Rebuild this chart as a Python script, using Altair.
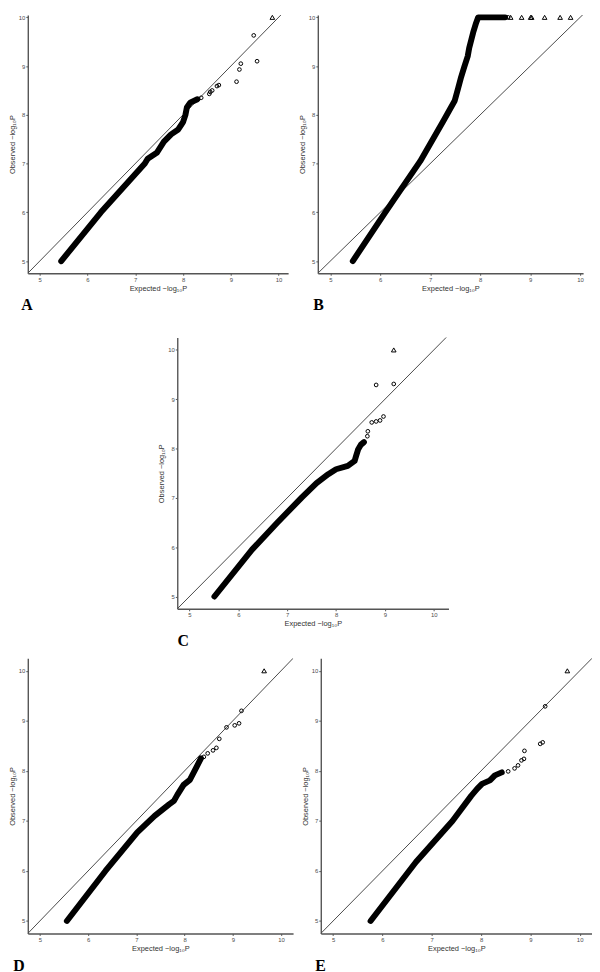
import altair as alt
import pandas as pd

# ---------------- data ----------------
# Panel A
A_band_x = [5.45, 6.28, 7.2, 7.26, 7.45, 7.6, 7.75, 7.9, 8.0, 8.05, 8.08, 8.15, 8.3]
A_band_y = [5.0, 6.0, 7.0, 7.1, 7.22, 7.45, 7.6, 7.7, 7.85, 8.0, 8.15, 8.25, 8.32]
A_pts_x = [8.38, 8.55, 8.57, 8.61, 8.71, 8.75, 9.12, 9.18, 9.21, 9.55, 9.48]
A_pts_y = [8.35, 8.43, 8.47, 8.5, 8.59, 8.61, 8.68, 8.93, 9.05, 9.1, 9.63]
A_tri_x = [9.87]
A_tri_y = [10.0]

# Panel B
B_band_x = [5.45, 6.1, 6.8, 7.26, 7.49, 7.56, 7.62, 7.68, 7.75, 7.78, 7.82, 7.86, 7.92, 7.96, 8.5]
B_band_y = [5.0, 6.0, 7.05, 7.87, 8.29, 8.55, 8.78, 8.98, 9.2, 9.37, 9.53, 9.69, 9.89, 10.0, 10.0]
B_pts_x = [8.56]
B_pts_y = [10.0]
B_tri_x = [8.61, 8.83, 9.01, 9.03, 9.29, 9.6, 9.81]
B_tri_y = [10.0, 10.0, 10.0, 10.0, 10.0, 10.0, 10.0]

# Panel C
C_band_x = [5.51, 6.28, 6.8, 7.3, 7.6, 7.84, 8.0, 8.24, 8.38, 8.41, 8.45, 8.51, 8.57]
C_band_y = [5.0, 5.95, 6.5, 7.01, 7.3, 7.48, 7.58, 7.65, 7.75, 7.85, 7.98, 8.08, 8.13]
C_pts_x = [8.64, 8.65, 8.73, 8.82, 8.9, 8.97, 8.82, 9.18]
C_pts_y = [8.25, 8.35, 8.53, 8.55, 8.57, 8.65, 9.29, 9.31]
C_tri_x = [9.18]
C_tri_y = [10.0]

# Panel D
D_band_x = [5.56, 6.36, 7.02, 7.38, 7.68, 7.78, 7.85, 7.98, 8.11, 8.25, 8.34]
D_band_y = [5.0, 6.0, 6.77, 7.1, 7.33, 7.4, 7.52, 7.72, 7.82, 8.08, 8.25]
D_pts_x = [8.4, 8.48, 8.59, 8.66, 8.72, 8.87, 9.04, 9.13, 9.18]
D_pts_y = [8.28, 8.35, 8.41, 8.46, 8.64, 8.87, 8.91, 8.95, 9.2]
D_tri_x = [9.65]
D_tri_y = [10.0]

# Panel E
E_band_x = [5.76, 6.68, 7.42, 7.8, 7.92, 8.02, 8.18, 8.28, 8.42]
E_band_y = [5.0, 6.18, 7.0, 7.5, 7.64, 7.74, 7.81, 7.91, 7.97]
E_pts_x = [8.55, 8.68, 8.75, 8.82, 8.87, 8.88, 9.2, 9.25, 9.3]
E_pts_y = [7.99, 8.05, 8.11, 8.21, 8.24, 8.4, 8.54, 8.57, 9.29]
E_tri_x = [9.75]
E_tri_y = [10.0]

ticks = [5, 6, 7, 8, 9, 10]
diag = [4.7, 10.4]

X_TITLE = "Expected \u2212log\u2081\u2080P"
Y_TITLE = "Observed \u2212log\u2081\u2080P"


def panel(letter, bx, by, px, py, tx, ty, xdom, ydom, w, h, dx):
    xs = alt.Scale(domain=xdom, nice=False, zero=False)
    ys = alt.Scale(domain=ydom, nice=False, zero=False)
    xax = alt.Axis(values=ticks, title=X_TITLE, format="d")
    yax = alt.Axis(values=ticks, title=Y_TITLE, format="d")

    dd = pd.DataFrame({"x": diag, "y": diag})
    diag_l = alt.Chart(dd).mark_line(color="#4a4a4a", strokeWidth=1, clip=True).encode(
        x=alt.X("x:Q", scale=xs, axis=xax), y=alt.Y("y:Q", scale=ys, axis=yax))

    bd = pd.DataFrame({"x": bx, "y": by, "o": list(range(len(bx)))})
    band = alt.Chart(bd).mark_line(color="black", strokeWidth=6, strokeCap="round",
                                   strokeJoin="round").encode(
        x=alt.X("x:Q", scale=xs), y=alt.Y("y:Q", scale=ys), order="o:Q")

    pdf = pd.DataFrame({"x": px, "y": py})
    pts = alt.Chart(pdf).mark_point(shape="circle", filled=False, color="black",
                                    strokeWidth=1, size=14, opacity=1).encode(
        x=alt.X("x:Q", scale=xs), y=alt.Y("y:Q", scale=ys))

    tdf = pd.DataFrame({"x": tx, "y": ty})
    tri = alt.Chart(tdf).mark_point(shape="triangle-up", filled=False, color="black",
                                    strokeWidth=1, size=22, opacity=1).encode(
        x=alt.X("x:Q", scale=xs), y=alt.Y("y:Q", scale=ys))

    return alt.layer(diag_l, band, pts, tri).properties(
        width=w, height=h,
        title=alt.TitleParams(letter, orient="bottom", anchor="start", frame="bounds",
                              dx=dx, offset=6, font="Liberation Serif",
                              fontSize=16, fontWeight="bold", color="black"))


pA = panel("A", A_band_x, A_band_y, A_pts_x, A_pts_y, A_tri_x, A_tri_y,
           [4.75, 10.2], [4.75, 10.05], 263, 261, 13)
pB = panel("B", B_band_x, B_band_y, B_pts_x, B_pts_y, B_tri_x, B_tri_y,
           [4.75, 10.06], [4.75, 10.05], 268, 261, 15)
pC = panel("C", C_band_x, C_band_y, C_pts_x, C_pts_y, C_tri_x, C_tri_y,
           [4.75, 10.3], [4.75, 10.25], 274, 274, 20)
pD = panel("D", D_band_x, D_band_y, D_pts_x, D_pts_y, D_tri_x, D_tri_y,
           [4.75, 10.25], [4.75, 10.25], 268, 278, 5)
pE = panel("E", E_band_x, E_band_y, E_pts_x, E_pts_y, E_tri_x, E_tri_y,
           [4.75, 10.25], [4.75, 10.25], 274, 278, 14)

spacer = alt.Chart(pd.DataFrame({"x": [0], "y": [0]})).mark_point(opacity=0, size=1).encode(
    x=alt.X("x:Q", axis=None), y=alt.Y("y:Q", axis=None)).properties(width=131, height=10)

row1 = alt.hconcat(pA, pB, spacing=10)
row2 = alt.hconcat(spacer, pC, spacing=0)
row3 = alt.hconcat(pD, pE, spacing=8)

lower = alt.vconcat(row2, row3, spacing=9)

chart = alt.vconcat(row1, lower, spacing=24).properties(
    padding=0, background="white"
).configure_view(stroke=None).configure_axis(
    domainColor="#555555", domainWidth=1.4, tickColor="#555555", tickSize=2,
    tickWidth=1, grid=False, labelFont="Liberation Sans", labelFontSize=6,
    labelColor="#4d4d4d", labelPadding=1, titleFont="Liberation Sans",
    titleFontSize=7.5, titleFontWeight="normal", titleColor="#333333", titlePadding=2
).configure_concat(spacing=0)

chart.save("out.html", embed_options={"renderer": "svg", "actions": False})
